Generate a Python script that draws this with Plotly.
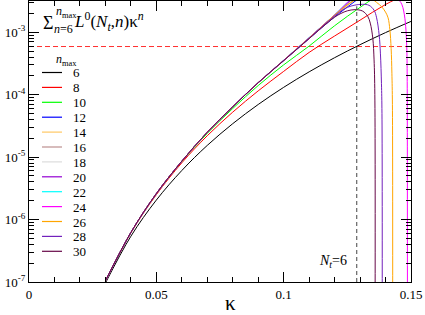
import plotly.graph_objects as go

# ---------------- data ----------------
kappa_grid = [0.03, 0.04, 0.05, 0.06, 0.07, 0.08, 0.09, 0.10, 0.11, 0.12, 0.13, 0.14, 0.15]

sum_n6 = [9.6e-8, 5.4e-7, 2.05e-6, 6.1e-6, 1.54e-5, 3.43e-5, 6.96e-5, 1.31e-4, 2.32e-4, 3.91e-4, 6.32e-4, 9.86e-4, 1.49e-3]
sum_n8 = [1.03e-7, 6.1e-7, 2.5e-6, 8.1e-6, 2.2e-5, 5.25e-5, 1.15e-4, 2.36e-4, 4.75e-4, 8.7e-4, 1.56e-3, 2.78e-3, 4.4e-3]
sum_n10 = [1.04e-7, 6.2e-7, 2.58e-6, 8.5e-6, 2.4e-5, 6.0e-5, 1.40e-4, 3.0e-4, 6.0e-4, 1.27e-3, 2.5e-3, 4.7e-3, 8.5e-3]
sum_n12 = [1.04e-7, 6.2e-7, 2.6e-6, 8.6e-6, 2.5e-5, 6.4e-5, 1.55e-4, 3.5e-4, 7.9e-4, 1.76e-3, 3.6e-3, 7.0e-3, 1.3e-2]
sum_n14 = [1.04e-7, 6.2e-7, 2.6e-6, 8.6e-6, 2.5e-5, 6.4e-5, 1.55e-4, 3.52e-4, 8.0e-4, 1.81e-3, 3.9e-3, 8.0e-3, 1.5e-2]
sum_n16 = [1.04e-7, 6.2e-7, 2.6e-6, 8.6e-6, 2.5e-5, 6.4e-5, 1.55e-4, 3.53e-4, 8.05e-4, 1.84e-3, 4.1e-3, 8.8e-3, 1.7e-2]
sum_n18 = [1.04e-7, 6.2e-7, 2.6e-6, 8.6e-6, 2.5e-5, 6.4e-5, 1.56e-4, 3.54e-4, 8.1e-4, 1.86e-3, 4.3e-3, 9.5e-3, 2.0e-2]
sum_n20 = [1.04e-7, 6.2e-7, 2.6e-6, 8.6e-6, 2.5e-5, 6.4e-5, 1.56e-4, 3.55e-4, 8.15e-4, 1.88e-3, 4.5e-3, 1.03e-2, 2.3e-2]
sum_n22 = [1.04e-7, 6.2e-7, 2.6e-6, 8.6e-6, 2.5e-5, 6.4e-5, 1.56e-4, 3.56e-4, 8.2e-4, 1.90e-3, 4.7e-3, 1.1e-2, 2.6e-2]

kappa_24 = [0.03, 0.04, 0.05, 0.06, 0.07, 0.08, 0.09, 0.10, 0.11, 0.12, 0.13, 0.136, 0.1415,
            0.1445, 0.146, 0.1468, 0.1474, 0.1478, 0.1482, 0.1484, 0.1485, 0.1486]
sum_n24 = [1.04e-7, 6.2e-7, 2.6e-6, 8.6e-6, 2.5e-5, 6.4e-5, 1.56e-4, 3.55e-4, 8.15e-4, 1.89e-3, 4.4e-3, 5.0e-3, 4.3e-3,
           3.5e-3, 3.0e-3, 2.5e-3, 1.9e-3, 1.4e-3, 8e-4, 4.5e-4, 2e-4, 1e-8]

kappa_26 = [0.03, 0.04, 0.05, 0.06, 0.07, 0.08, 0.09, 0.10, 0.11, 0.12, 0.125, 0.13, 0.1335,
            0.1365, 0.1385, 0.14, 0.141, 0.1417, 0.1422, 0.1425, 0.1427, 0.1428]
sum_n26 = [1.04e-7, 6.2e-7, 2.6e-6, 8.6e-6, 2.5e-5, 6.4e-5, 1.56e-4, 3.54e-4, 8.1e-4, 1.88e-3, 2.75e-3, 3.5e-3, 3.6e-3,
           3.0e-3, 2.55e-3, 2.1e-3, 1.7e-3, 1.1e-3, 5.5e-4, 2.2e-4, 7e-5, 1e-8]

kappa_28 = [0.03, 0.04, 0.05, 0.06, 0.07, 0.08, 0.09, 0.10, 0.11, 0.115, 0.12, 0.1225, 0.125, 0.128,
            0.131, 0.1335, 0.1355, 0.1365, 0.1375, 0.138, 0.1384, 0.1386, 0.1387]
sum_n28 = [1.04e-7, 6.2e-7, 2.6e-6, 8.6e-6, 2.5e-5, 6.4e-5, 1.56e-4, 3.53e-4, 8.0e-4, 1.22e-3, 1.82e-3, 2.18e-3, 2.5e-3, 2.72e-3,
           2.8e-3, 2.7e-3, 2.25e-3, 1.7e-3, 9.0e-4, 4.5e-4, 1.5e-4, 5e-5, 1e-8]

kappa_30 = [0.03, 0.04, 0.05, 0.06, 0.07, 0.08, 0.09, 0.10, 0.11, 0.115, 0.12, 0.1225, 0.125, 0.128,
            0.131, 0.133, 0.134, 0.135, 0.1355, 0.1358, 0.1359]
sum_n30 = [1.04e-7, 6.2e-7, 2.6e-6, 8.6e-6, 2.5e-5, 6.4e-5, 1.55e-4, 3.5e-4, 7.9e-4, 1.19e-3, 1.74e-3, 2.0e-3, 2.2e-3, 2.3e-3,
           2.18e-3, 1.8e-3, 1.4e-3, 8.0e-4, 3.6e-4, 1.0e-4, 1e-8]

nmax_labels = ["6", "8", "10", "12", "14", "16", "18", "20", "22", "24", "26", "28", "30"]
series_colors = ["#000000", "#ff0000", "#00ff00", "#0000ff", "#ffc864", "#bc8f8f", "#dcdcdc",
                 "#9400d3", "#00ffff", "#ff00ff", "#ffa500", "#7221bc", "#670748"]

threshold_value = 5.9e-4
kappa_c = 0.1287
kappa_c_top = 2.6e-3

x_tick_vals = [0, 0.05, 0.1, 0.15]
x_tick_text = ["0", "0.05", "0.1", "0.15"]
y_tick_vals = [1e-7, 1e-6, 1e-5, 1e-4, 1e-3]
y_tick_text = ["10<sup>-7</sup>", "10<sup>-6</sup>", "10<sup>-5</sup>", "10<sup>-4</sup>", "10<sup>-3</sup>"]

# ---------------- figure ----------------
W, H = 425, 315
L, R, T, B = 29, 14, 1, 33
PW, PH = W - L - R, H - T - B


def px(x):
    return (x - L) / PW


def py(y):
    return (H - B - y) / PH


SERIF = "Liberation Serif, Times New Roman, Times, serif"
fig = go.Figure()

# reference lines
fig.add_trace(go.Scatter(x=[0, 0.15], y=[threshold_value, threshold_value], mode="lines",
                         line=dict(color="#ff3030", width=1, dash="5px,3px"), showlegend=False, hoverinfo="skip"))
fig.add_trace(go.Scatter(x=[kappa_c, kappa_c], y=[1e-7, kappa_c_top], mode="lines",
                         line=dict(color="#444444", width=1, dash="4px,3px"), showlegend=False, hoverinfo="skip"))

grid_series = [sum_n6, sum_n8, sum_n10, sum_n12, sum_n14, sum_n16, sum_n18, sum_n20, sum_n22]
xs = [kappa_grid] * len(grid_series) + [kappa_24, kappa_26, kappa_28, kappa_30]
ys = grid_series + [sum_n24, sum_n26, sum_n28, sum_n30]

for x, y, lab, col in zip(xs, ys, nmax_labels, series_colors):
    fig.add_trace(go.Scatter(x=x, y=y, mode="lines", name=lab,
                             line=dict(color=col, width=1, shape="spline", smoothing=1),
                             showlegend=False))

axis_common = dict(showline=True, linecolor="black", linewidth=1, mirror="allticks",
                   ticks="inside", ticklen=10, tickwidth=1, tickcolor="black",
                   showgrid=False, zeroline=False,
                   tickfont=dict(family=SERIF, size=13, color="black"))

fig.update_xaxes(range=[0, 0.15], tickmode="array", tickvals=x_tick_vals, ticktext=x_tick_text,
                 minor=dict(tickmode="array", tickvals=[i / 100 for i in range(1, 15)],
                            ticks="inside", ticklen=5, tickcolor="black", tickwidth=1, showgrid=False),
                 **axis_common)
minor_y = [k * 10 ** e for e in range(-7, -2) for k in range(2, 10)]
fig.update_yaxes(type="log", range=[-7, -2.5], tickmode="array", tickvals=y_tick_vals, ticktext=y_tick_text,
                 minor=dict(tickmode="array", tickvals=minor_y,
                            ticks="inside", ticklen=5, tickcolor="black", tickwidth=1, showgrid=False),
                 **axis_common)

ann = []
# formula
ann.append(dict(x=px(47.5), y=py(22.5), text="Σ", font=dict(family=SERIF, size=18, color="black"),
                xanchor="center", yanchor="middle"))
ann.append(dict(x=px(54), y=py(12), text="<i>n</i><sub>max</sub>", font=dict(family=SERIF, size=12, color="black"),
                xanchor="left", yanchor="middle"))
ann.append(dict(x=px(51.5), y=py(29.5), text="<i>n</i>=6", font=dict(family=SERIF, size=12, color="black"),
                xanchor="left", yanchor="middle"))
ann.append(dict(x=px(72), y=py(22), text="<i>L</i><sup>0</sup>(<i>N</i><sub><i>t</i></sub>,<i>n</i>)κ<sup><i>n</i></sup>",
                font=dict(family=SERIF, size=17, color="black"), xanchor="left", yanchor="middle"))
# legend title
ann.append(dict(x=px(54), y=py(60), text="<i>n</i><sub>max</sub>", font=dict(family=SERIF, size=12, color="black"),
                xanchor="left", yanchor="middle"))
# legend entries
shapes = []
for i, (lab, col) in enumerate(zip(nmax_labels, series_colors)):
    yy = 72.5 + i * 14.9
    shapes.append(dict(type="line", xref="paper", yref="paper", x0=px(42), x1=px(62), y0=py(yy), y1=py(yy),
                       line=dict(color=col, width=1.2)))
    ann.append(dict(x=px(71), y=py(yy + 0.5), text=lab, font=dict(family=SERIF, size=13, color="black"),
                    xanchor="left", yanchor="middle"))
# N_t = 6 label
ann.append(dict(x=px(317), y=py(261), text="<i>N</i><sub><i>t</i></sub>=6", font=dict(family=SERIF, size=14, color="black"),
                xanchor="left", yanchor="middle"))
# axis label
ann.append(dict(x=px(231), y=py(303), text="κ", font=dict(family=SERIF, size=21, color="black"),
                xanchor="center", yanchor="middle"))
for a in ann:
    a.update(xref="paper", yref="paper", showarrow=False)

fig.update_layout(width=W, height=H, margin=dict(l=L, r=R, t=T, b=B, pad=0),
                  paper_bgcolor="white", plot_bgcolor="white", showlegend=False,
                  annotations=ann, shapes=shapes)

fig.write_html("out.html", config={"displayModeBar": False},
               post_script="document.body.style.margin='0';")
